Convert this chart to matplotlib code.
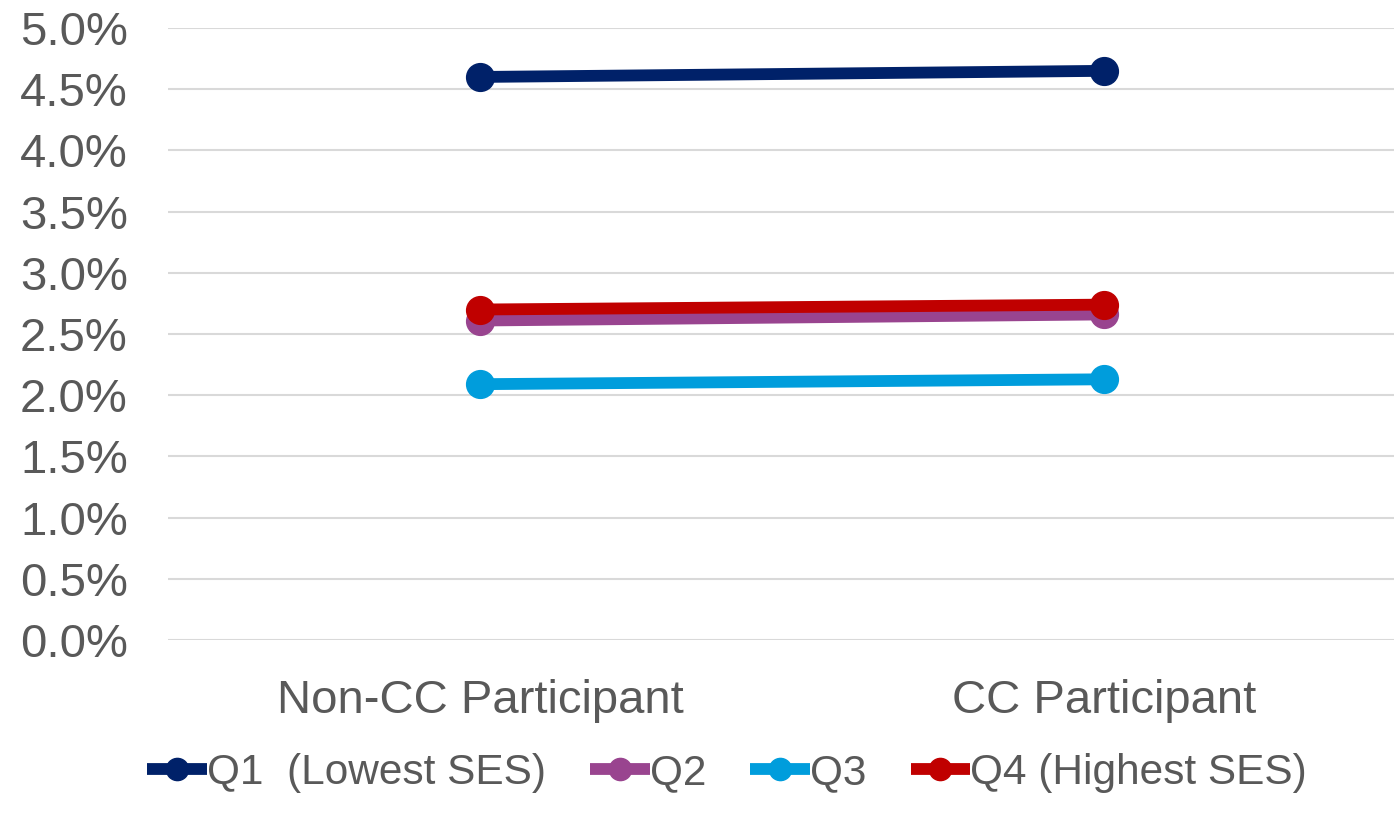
import matplotlib.pyplot as plt
from matplotlib.ticker import PercentFormatter

plt.rcParams['font.family'] = ['Liberation Sans', 'DejaVu Sans']

# Rates by SES quartile, for non-participants vs. CC participants
groups = ["Non-CC Participant", "CC Participant"]
series_names = ["Q1  (Lowest SES)", "Q2", "Q3", "Q4 (Highest SES)"]
q1 = [4.60, 4.65]
q2 = [2.61, 2.66]
q3 = [2.09, 2.13]
q4 = [2.70, 2.74]
colors = ["#002169", "#99448f", "#009ddc", "#c00000"]
y_ticks = [0.0, 0.5, 1.0, 1.5, 2.0, 2.5, 3.0, 3.5, 4.0, 4.5, 5.0]

fig = plt.figure(figsize=(13.94, 8.27), dpi=100)
# axis runs past the right edge, as in the exported slide
ax = fig.add_axes([168 / 1394, (827 - 640) / 827, 1248 / 1394, 612 / 827])

xs = list(range(len(groups)))
for name, vals, c in zip(series_names, [q1, q2, q3, q4], colors):
    ax.plot(xs, vals, color=c, linewidth=8.5, marker='o', markersize=20,
            solid_capstyle='butt', label=name, zorder=3)

ax.set_xlim(-0.5, 1.5)
ax.set_ylim(0, 5.0)
ax.set_yticks(y_ticks)
ax.yaxis.set_major_formatter(PercentFormatter(decimals=1))
ax.set_xticks(xs)
ax.set_xticklabels(groups)
ax.grid(axis='y', color='#d9d9d9', linewidth=1.5, zorder=0)
ax.set_axisbelow(True)
for s in ax.spines.values():
    s.set_visible(False)
ax.tick_params(axis='both', length=0, labelsize=34, colors='#595959')
ax.tick_params(axis='y', pad=29)
ax.tick_params(axis='x', pad=28)

leg = fig.legend(loc='center', bbox_to_anchor=(727 / 1394, 1 - 773 / 827), ncol=4,
                 frameon=False, fontsize=30.5, handlelength=1.4, handletextpad=0.0,
                 columnspacing=1.05, markerscale=0.8)
for t in leg.get_texts():
    t.set_color('#595959')

fig.savefig("out.png", dpi=100)
